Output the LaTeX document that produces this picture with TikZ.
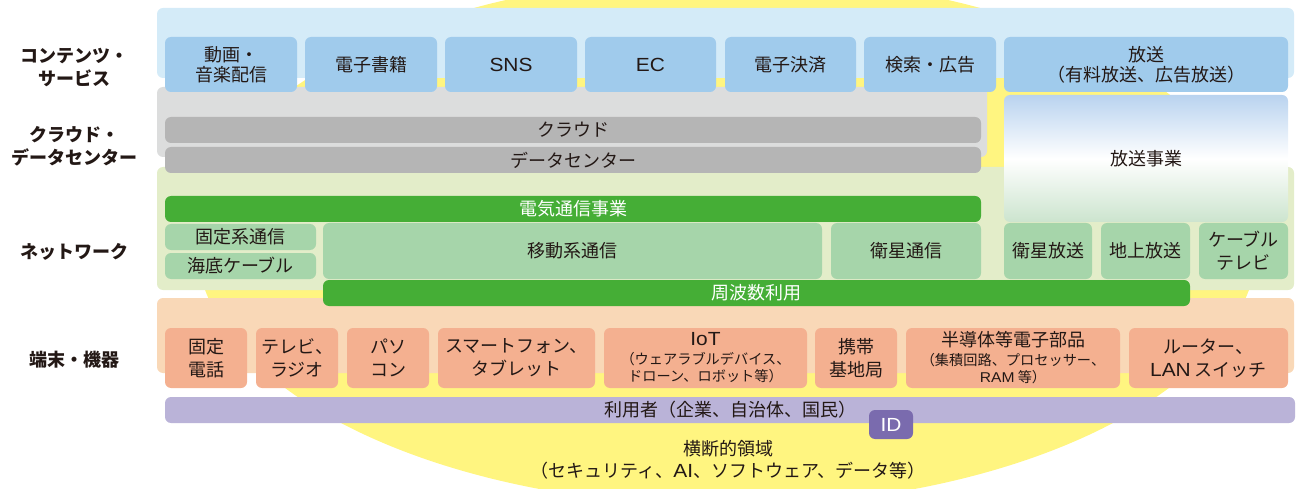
\documentclass[tikz,border=0pt]{standalone}
\usepackage{fontspec}
\setmainfont{Noto Sans CJK JP}
\newfontfamily\lat[FakeStretch=1.1]{Liberation Sans}
\definecolor{ylw}{HTML}{FFF580}
\definecolor{cbg}{HTML}{D4EBF8}
\definecolor{citem}{HTML}{A0CBEC}
\definecolor{gbg}{HTML}{DCDDDD}
\definecolor{gitem}{HTML}{B5B5B5}
\definecolor{nbg}{HTML}{E3EDC9}
\definecolor{nitem}{HTML}{A6D5AA}
\definecolor{gbar}{HTML}{45AE36}
\definecolor{tbg}{HTML}{F9D8B7}
\definecolor{titem}{HTML}{F4B090}
\definecolor{ubar}{HTML}{BAB3D8}
\definecolor{idc}{HTML}{7A6BAE}
\definecolor{bbtop}{HTML}{B9D3EF}
\definecolor{bbbot}{HTML}{CCE4CE}
\definecolor{txt}{HTML}{231815}
\newcommand\sm{\fontsize{14.2}{16}\selectfont}
\newcommand\la[1]{{\lat\fontsize{19}{23}\selectfont #1}}
\newcommand\bx[7]{\node[#6, minimum width={(#4)-(#2)}, minimum height={(#5)-(#3)}] (#1) at ({(#2+#4)/2},{(#3+#5)/2}) {#7};}
\tikzset{
  base/.style={rounded corners=6pt, inner sep=0pt, outer sep=0pt, align=center, text=txt,
    font=\fontsize{18}{23}\selectfont},
  layer/.style={base, fill=#1},
  item/.style={base, fill=#1},
  lbl/.style={inner sep=0pt, align=center, text=txt, font=\fontsize{18}{23}\selectfont\bfseries},
}
\begin{document}
\begin{tikzpicture}[x=1pt,y=-1pt]
\useasboundingbox (0,0) rectangle (1298,489);
\begin{scope}
\clip (0,0) rectangle (1298,489);
\fill[ylw] (727,241) ellipse [x radius=531pt, y radius=265pt];
\end{scope}
% layers
\bx{lc}{157}{8}{1294}{78}{layer=cbg}{}
\bx{lcl}{157}{87}{987}{157}{layer=gbg}{}
\bx{ln}{157}{167}{1294}{290}{layer=nbg}{}
\bx{lt}{157}{298}{1294}{373}{layer=tbg}{}
% left labels
\node[lbl] (L1) at (74,67.5) {コンテンツ・\\サービス};
\node[lbl] (L2) at (74,146) {クラウド・\\データセンター};
\node[lbl] (L3) at (74,252) {ネットワーク};
\node[lbl] (L4) at (74,360) {端末・機器};
% contents
\bx{c1}{165}{37}{297}{92}{item=citem}{動画・\\[-3pt]音楽配信}
\bx{c2}{305}{37}{437}{92}{item=citem}{電子書籍}
\bx{c3}{445}{37}{577}{92}{item=citem}{\la{SNS}}
\bx{c4}{585}{37}{716}{92}{item=citem}{\la{EC}}
\bx{c5}{725}{37}{856}{92}{item=citem}{電子決済}
\bx{c6}{864}{37}{996}{92}{item=citem}{検索・広告}
\bx{c7}{1004}{37}{1288}{92}{item=citem}{放送\\[-3pt]（有料放送、広告放送）}
% cloud
\bx{d1}{165}{117}{981}{143}{item=gitem}{クラウド}
\bx{d2}{165}{147}{981}{173}{item=gitem}{データセンター}
% broadcast business
\node[base, top color=bbtop, bottom color=bbbot, middle color=white,
  minimum width=284pt, minimum height=127pt] (bb) at (1146,158.5) {放送事業};
% network
\bx{n0}{165}{196}{981}{222}{item=gbar, text=white}{電気通信事業}
\bx{n1}{165}{224}{316}{250}{item=nitem}{固定系通信}
\bx{n2}{165}{253}{316}{279}{item=nitem}{海底ケーブル}
\bx{n3}{323}{223}{822}{279}{item=nitem}{移動系通信}
\bx{n4}{831}{223}{981}{279}{item=nitem}{衛星通信}
\bx{n5}{1004}{223}{1092}{279}{item=nitem}{衛星放送}
\bx{n6}{1101}{223}{1190}{279}{item=nitem}{地上放送}
\bx{n7}{1199}{223}{1288}{279}{item=nitem}{ケーブル\\テレビ}
\bx{n8}{323}{280}{1190}{306}{item=gbar, text=white}{周波数利用}
% terminals
\bx{t1}{165}{328}{247}{388}{item=titem}{固定\\電話}
\bx{t2}{256}{328}{338}{388}{item=titem}{テレビ、\\ラジオ}
\bx{t3}{347}{328}{429}{388}{item=titem}{パソ\\コン}
\bx{t4}{438}{328}{595}{388}{item=titem}{スマートフォン、\\タブレット}
\bx{t5}{604}{328}{807}{388}{item=titem}{\la{IoT}\\[-4pt]{\sm （ウェアラブルデバイス、}\\[-6pt]{\sm ドローン、ロボット等）}}
\bx{t6}{815}{328}{897}{388}{item=titem}{携帯\\基地局}
\bx{t7}{906}{328}{1120}{388}{item=titem}{半導体等電子部品\\[-4pt]{\sm （集積回路、プロセッサー、}\\[-6pt]{\sm {\lat RAM} 等）}}
\bx{t8}{1129}{328}{1288}{388}{item=titem}{ルーター、\\\la{LAN} スイッチ}
% user
\bx{u}{165}{397}{1295}{423}{item=ubar}{利用者（企業、自治体、国民）}
\bx{id}{869}{410}{913}{439}{item=idc, text=white}{\la{ID}}
\node[base] (cross) at (728,460) {横断的領域\\[-1pt]（セキュリティ、\la{AI}、ソフトウェア、データ等）};
\end{tikzpicture}
\end{document}
